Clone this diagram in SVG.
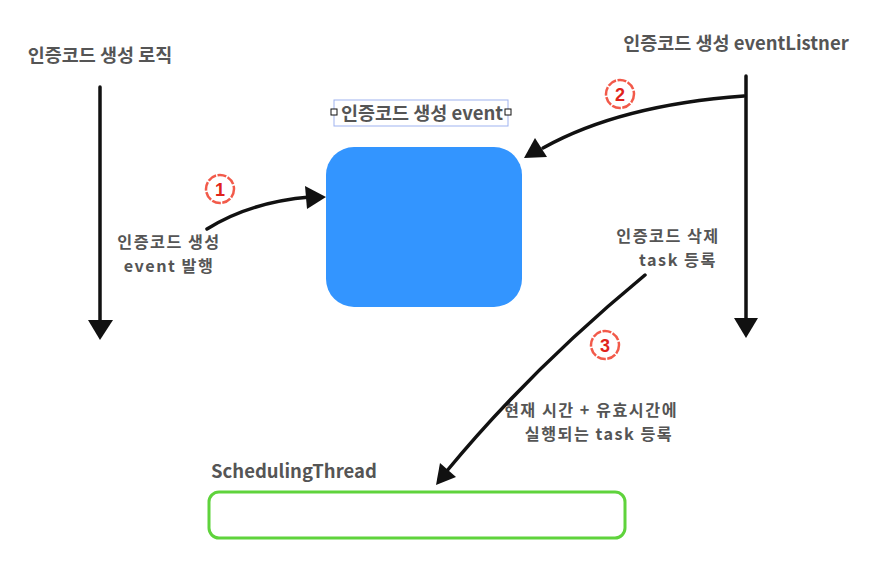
<svg xmlns="http://www.w3.org/2000/svg" width="871" height="569" viewBox="0 0 871 569">
<style>
.t{font-family:"Noto Sans CJK KR","Noto Sans",sans-serif;font-weight:700;font-size:18.5px;fill:#555;}
.t2{font-family:"Noto Sans CJK KR","Noto Sans",sans-serif;font-weight:700;font-size:16.2px;letter-spacing:1.5px;fill:#555;}
.c{text-anchor:middle;}
.ln{fill:none;stroke:#111;stroke-width:3.5;stroke-linecap:round;}
.num{fill:none;stroke:#f25a4a;stroke-width:2.5;stroke-dasharray:9 1.5;}
.nt{font-family:"Liberation Sans",Arial,sans-serif;font-weight:700;font-size:18px;fill:#e0231b;text-anchor:middle;}
</style>
<rect width="871" height="569" fill="#fff"/>

<g id="logic">
<text class="t c" x="100" y="62">인증코드 생성 로직</text>
</g>
<g id="listener">
<text class="t c" x="736" y="50">인증코드 생성 eventListner</text>
</g>
<g id="event">
<rect x="326" y="147" width="196" height="160" rx="28" fill="#3395ff"/>
<rect x="334" y="100" width="174" height="26" fill="none" stroke="#9fb3f0" stroke-width="1"/>
<rect x="331" y="109" width="6" height="6" fill="#fff" stroke="#111" stroke-width="1"/>
<rect x="505" y="109" width="6" height="6" fill="#fff" stroke="#111" stroke-width="1"/>
<text class="t c" x="422" y="120">인증코드 생성 event</text>
</g>
<g id="thread">
<text class="t" x="211" y="478">SchedulingThread</text>
<rect x="209" y="492" width="416" height="46" rx="10" fill="none" stroke="#5fd33c" stroke-width="3"/>
</g>
<g id="labels">
<text class="t2 c" x="169" y="248">인증코드 생성</text>
<text class="t2 c" x="169" y="272">event 발행</text>
<text class="t2 c" x="668" y="242">인증코드 삭제</text>
<text class="t2 c" x="678" y="266">task 등록</text>
<text class="t2 c" x="591" y="416">현재 시간 + 유효시간에</text>
<text class="t2 c" x="599" y="440">실행되는 task 등록</text>
</g>
<g id="connectors">
<path class="ln" d="M100,87 L100,322" />
<path d="M88,320 L113,320 L100,340 z" fill="#111"/>
<path class="ln" d="M746,76 L746,320" />
<path d="M734,318 L758,318 L746,338 z" fill="#111"/>
<path class="ln" d="M207,229 Q250,202 310,197"/>
<path d="M305,186 L326,197 L307,209 z" fill="#111"/>
<path class="ln" d="M744,96 Q620,105 543,148"/>
<path d="M535,138 L524,158 L547,157 z" fill="#111"/>
<path class="ln" d="M645,275 Q530,370 446,472"/>
<path d="M436,485 L440,463 L456,477 z" fill="#111"/>
</g>
<g id="steps">
<circle class="num" cx="220" cy="189" r="14"/>
<text class="nt" x="220" y="195.5">1</text>
<circle class="num" cx="620" cy="94" r="14"/>
<text class="nt" x="620" y="100.5">2</text>
<circle class="num" cx="605" cy="345" r="14"/>
<text class="nt" x="605" y="351.5">3</text>
</g>
</svg>
